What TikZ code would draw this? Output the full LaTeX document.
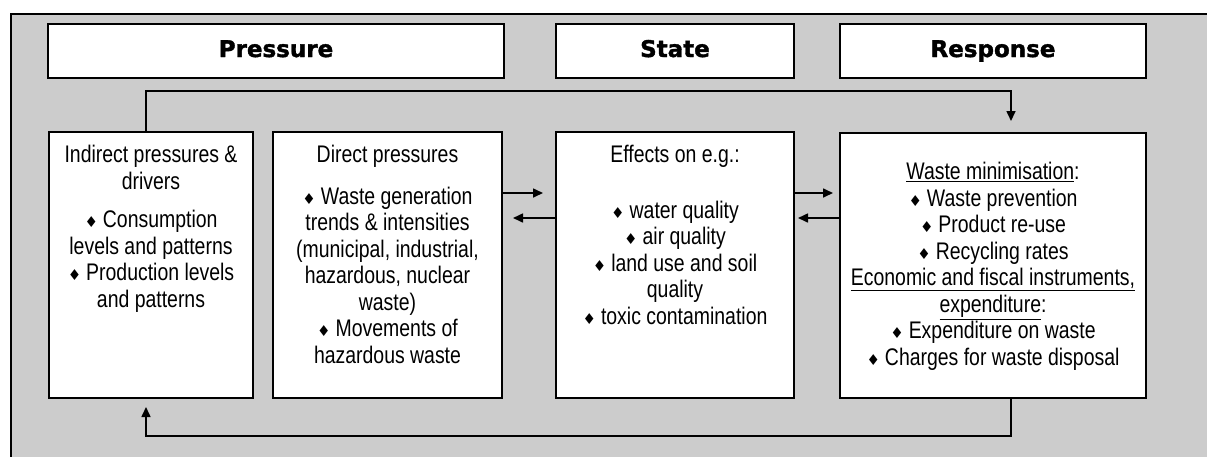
\documentclass[tikz,border=0pt]{standalone}
\usepackage{fontspec}
\setmainfont{Liberation Sans}[FakeStretch=0.81]
\newfontfamily\headfont{DejaVu Sans}[BoldFeatures={FakeBold=1.6}]
\newfontfamily\dingfont{DejaVu Sans}
\usetikzlibrary{arrows.meta,positioning}

\definecolor{panelgray}{HTML}{CCCCCC}
\newcommand{\dmd}{{\dingfont\fontsize{15}{15}\selectfont\char"2666}\hspace{5pt}}

\tikzset{
  head/.style={draw, fill=white, line width=1.4pt, minimum height=54pt,
    text height=17pt, text depth=5pt,
    font=\headfont\bfseries\fontsize{23}{26}\selectfont},
  panel/.style={draw, fill=white, line width=1.4pt},
  txt/.style={align=center, inner sep=0pt, font=\fontsize{24}{26.5}\selectfont},
  arr/.style={-{Triangle[length=10pt,width=9pt]}, line width=1.6pt}
}

\begin{document}
\begin{tikzpicture}[x=1pt, y=-1pt]
			\fill[white] (0,0) rectangle (1207,456);
			\clip (0,0) rectangle (1207,456);
			\draw[fill=panelgray, line width=2pt] (11,14) rectangle (1220,470);

			% headings
			\node (pressure) at (276,51) [head, minimum width=456pt] {Pressure};
			\node (state) at (675,51) [head, minimum width=238pt] {State};
			\node (response) at (993,51) [head, minimum width=306pt] {Response};

			% panels
			\node (ind) at (151,265) [panel, minimum width=204pt, minimum height=266pt] {};
			\node (dir) at (387.5,265) [panel, minimum width=229pt, minimum height=266pt] {};
			\node (sta) at (675,265) [panel, minimum width=238pt, minimum height=266pt] {};
			\node (res) at (993,265.5) [panel, minimum width=306pt, minimum height=265pt] {};

			\node (indtxt) [txt, below=14pt of ind.north] {Indirect pressures \&\\drivers\\[12pt]
				\dmd Consumption\\levels and patterns\\\dmd Production levels\\and patterns};
			\node (dirtxt) [txt, below=14pt of dir.north] {Direct pressures\\[15pt]
				\dmd Waste generation\\trends \& intensities\\(municipal, industrial,\\hazardous, nuclear\\waste)\\
				\dmd Movements of\\hazardous waste};
			\node (statxt) [txt, below=14pt of sta.north] {Effects on e.g.:\\[29pt]
				\dmd water quality\\\dmd air quality\\\dmd land use and soil\\quality\\\dmd toxic contamination};
			\node (restxt) [txt, below=30pt of res.north] {\underline{Waste minimisation}:\\
				\dmd Waste prevention\\\dmd Product re-use\\\dmd Recycling rates\\
				\underline{Economic and fiscal instruments,}\\\underline{expenditure}:\\
				\dmd Expenditure on waste\\\dmd Charges for waste disposal};

			% connector ends
			\coordinate (ds) at (543,193);
			\coordinate (sd) at (513,218);
			\coordinate (sr) at (833,193);
			\coordinate (rs) at (798,218);
			\coordinate (itop) at (146,91);
			\coordinate (rtip) at (1011,121);
			\coordinate (ibot) at (146,407);
			\coordinate (rbot) at (1011,436);

			\draw [arr] (dir.east |- ds) -- (ds);
			\draw [arr] (sta.west |- sd) -- (sd);
			\draw [arr] (sta.east |- sr) -- (sr);
			\draw [arr] (res.west |- rs) -- (rs);
			\draw [arr] (ind.north -| itop) -- (itop) -| (rtip);
			\draw [arr] (res.south -| rbot) -- (rbot) -| (ibot);
\end{tikzpicture}
\end{document}
